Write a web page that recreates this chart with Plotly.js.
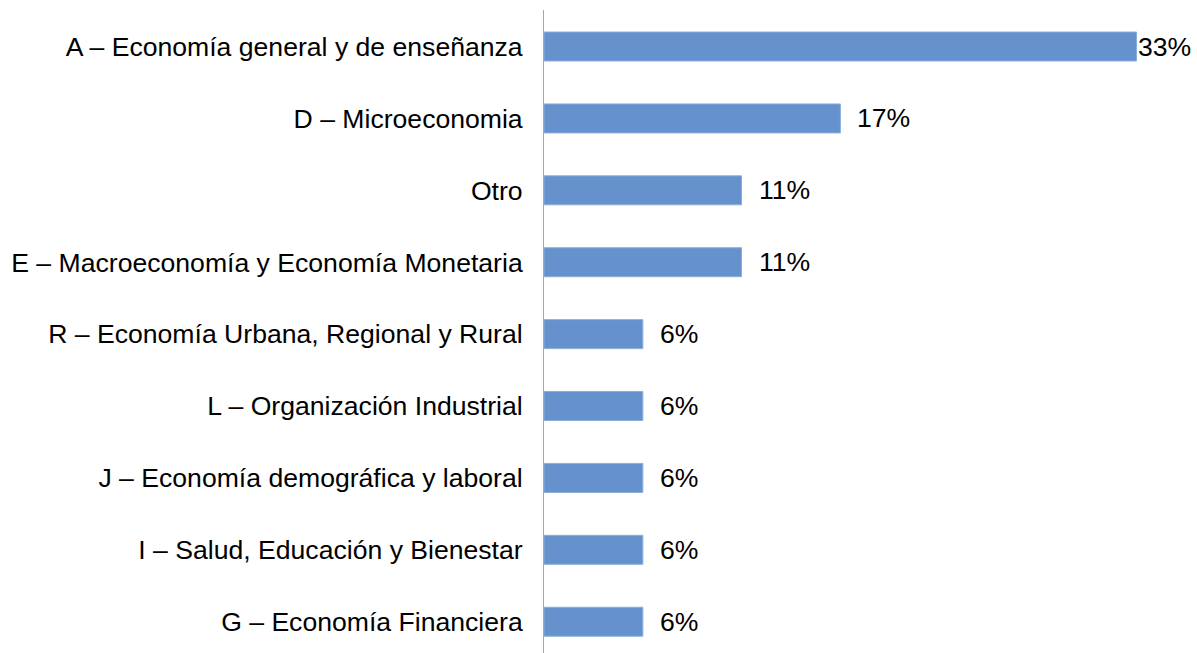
<!DOCTYPE html>
<html>
<head>
<meta charset="utf-8">
<script src="https://cdn.plot.ly/plotly-3.0.1.min.js"></script>
<style>html,body{margin:0;padding:0;background:#fff;}#chart{width:1197px;height:653px;}</style>
</head>
<body>
<div id="chart"></div>
<script>
const categories = [
  "A – Economía general y de enseñanza",
  "D – Microeconomia",
  "Otro",
  "E – Macroeconomía y Economía Monetaria",
  "R – Economía Urbana, Regional y Rural",
  "L – Organización Industrial",
  "J – Economía demográfica y laboral",
  "I – Salud, Educación y Bienestar",
  "G – Economía Financiera"
];
const shares = [33.33, 16.67, 11.11, 11.11, 5.56, 5.56, 5.56, 5.56, 5.56];
const labels = ["33%", "17%", "11%", "11%", "6%", "6%", "6%", "6%", "6%"];

const font = {family: "Liberation Sans, Arial, Helvetica, sans-serif", size: 26.6, color: "#000"};

const trace = {
  type: "bar",
  orientation: "h",
  x: shares,
  y: categories,
  marker: {color: "#6591cd", line: {color: "#8aaddc", width: 1}},
  hoverinfo: "none"
};

const annotations = shares.map((v, i) => ({
  x: v, y: categories[i], xref: "x", yref: "y",
  text: labels[i], showarrow: false,
  xanchor: "left", yanchor: "middle",
  xshift: v > 30 ? -1 : 15,
  font: font
}));

const layout = {
  width: 1197, height: 653,
  margin: {l: 544, r: 13, t: 10, b: 0, pad: 0},
  paper_bgcolor: "#fff", plot_bgcolor: "#fff",
  showlegend: false,
  bargap: 0.597,
  xaxis: {range: [0, 36], showgrid: false, zeroline: false, showline: false, showticklabels: false, ticks: ""},
  yaxis: {
    type: "category",
    range: [8.435, -0.508],
    showgrid: false, zeroline: false,
    showline: true, linecolor: "#a6a6a6", linewidth: 1,
    ticks: "", ticklabelstandoff: 15,
    tickfont: font
  },
  annotations: annotations,
  font: font
};

Plotly.newPlot("chart", [trace], layout, {staticPlot: true, displayModeBar: false});
</script>
</body>
</html>
